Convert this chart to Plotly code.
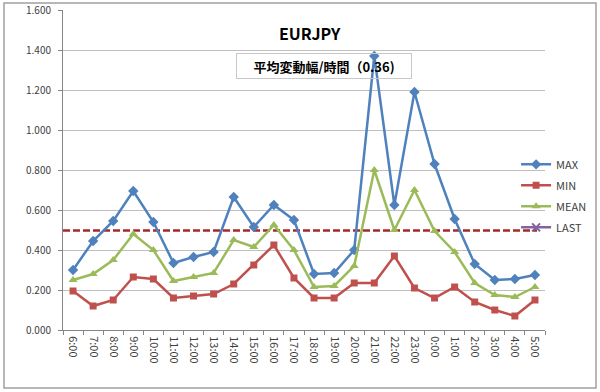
import plotly.graph_objects as go

hours = ["6:00", "7:00", "8:00", "9:00", "10:00", "11:00", "12:00", "13:00",
         "14:00", "15:00", "16:00", "17:00", "18:00", "19:00", "20:00", "21:00",
         "22:00", "23:00", "0:00", "1:00", "2:00", "3:00", "4:00", "5:00"]

max_vals = [0.300, 0.445, 0.545, 0.695, 0.540, 0.335, 0.365, 0.390,
            0.665, 0.515, 0.625, 0.550, 0.280, 0.285, 0.400, 1.370,
            0.625, 1.190, 0.830, 0.555, 0.330, 0.250, 0.255, 0.275]

min_vals = [0.195, 0.120, 0.150, 0.265, 0.255, 0.160, 0.170, 0.180,
            0.230, 0.325, 0.425, 0.260, 0.160, 0.160, 0.235, 0.235,
            0.370, 0.210, 0.160, 0.215, 0.140, 0.100, 0.070, 0.150]

mean_vals = [0.250, 0.280, 0.350, 0.480, 0.400, 0.245, 0.265, 0.285,
             0.450, 0.415, 0.525, 0.400, 0.215, 0.220, 0.320, 0.800,
             0.500, 0.700, 0.495, 0.390, 0.235, 0.175, 0.165, 0.215]

last_vals = [None] * len(hours)

avg_level = 0.497
title_text = "EURJPY"
box_text = "平均変動幅/時間（0.36)"

FONT = "Noto Sans CJK JP"
TXT = "#404040"

fig = go.Figure()

fig.add_trace(go.Scatter(x=hours, y=max_vals, name="MAX", mode="lines+markers",
                         legendgroup="a",
                         line=dict(color="#4F81BD", width=2.5),
                         marker=dict(symbol="diamond", size=8, color="#4F81BD")))
fig.add_trace(go.Scatter(x=hours, y=min_vals, name="MIN", mode="lines+markers",
                         legendgroup="b",
                         line=dict(color="#C0504D", width=2.5),
                         marker=dict(symbol="square", size=7, color="#C0504D")))
fig.add_trace(go.Scatter(x=hours, y=mean_vals, name="MEAN", mode="lines+markers",
                         legendgroup="c",
                         line=dict(color="#9BBB59", width=2.5),
                         marker=dict(symbol="triangle-up", size=8, color="#9BBB59")))
fig.add_trace(go.Scatter(x=hours, y=last_vals, name="LAST", mode="lines+markers",
                         legendgroup="d",
                         line=dict(color="#8064A2", width=2.5),
                         marker=dict(symbol="x-thin", size=8, color="#8064A2",
                                     line=dict(color="#8064A2", width=2))))

# dashed average line
fig.add_shape(type="line", xref="x", yref="y", x0=-0.5, x1=23.1,
              y0=avg_level, y1=avg_level, layer="below",
              line=dict(color="#A8282A", width=2.5, dash="7px,3px"))

# outer frame
fig.add_shape(type="rect", xref="paper", yref="paper",
              x0=(4 - 63) / 482, x1=(596 - 63) / 482,
              y0=(330 - 388) / 320, y1=(330 - 3) / 320,
              line=dict(color="#a0a0a0", width=1.5), layer="below")

fig.add_annotation(text="<b>" + title_text + "</b>", xref="paper", yref="paper",
                   x=(310 - 63) / 482, y=(330 - 33) / 320, showarrow=False,
                   xanchor="center", yanchor="middle",
                   font=dict(family=FONT, size=16, color="#000000"))
fig.add_annotation(text="<b>" + box_text + "</b>", xref="paper", yref="paper",
                   x=(324 - 63) / 482, y=(330 - 66) / 320, showarrow=False,
                   xanchor="center", yanchor="middle",
                   width=172, height=22, bordercolor="#c8c8c8", borderwidth=1,
                   font=dict(family=FONT, size=13, color="#000000"))

fig.update_layout(
    width=600, height=392,
    margin=dict(l=63, r=55, t=10, b=62, autoexpand=False),
    paper_bgcolor="white", plot_bgcolor="white",
    font=dict(family=FONT, size=10, color=TXT),
    showlegend=True,
    legend=dict(x=0.94, y=0.563, xanchor="left", yanchor="top",
                bgcolor="rgba(0,0,0,0)", font=dict(size=11, color=TXT),
                itemwidth=30, tracegroupgap=2),
)
fig.update_xaxes(type="category", tickangle=90, showgrid=False,
                 showline=True, linecolor="#868686", linewidth=1,
                 ticks="outside", tickson="boundaries", ticklen=4,
                 tickcolor="#868686", tickfont=dict(size=11, color=TXT),
                 ticklabelstandoff=3,
                 range=[-0.5, 23.5], automargin=False)
fig.update_yaxes(range=[0, 1.6], dtick=0.2, tickformat=".3f",
                 showgrid=True, gridcolor="#bfbfbf", gridwidth=1,
                 showline=True, linecolor="#868686", linewidth=1,
                 ticks="outside", ticklen=4, tickcolor="#868686",
                 tickfont=dict(size=10, color=TXT), zeroline=False,
                 ticklabelstandoff=5, automargin=False)

fig.write_html("out.html", post_script="document.body.style.margin='0';",
               config={"displayModeBar": False})
